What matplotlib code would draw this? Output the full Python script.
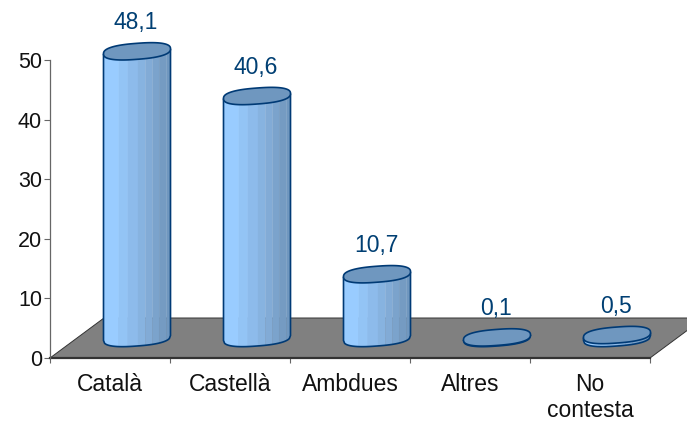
import matplotlib
matplotlib.use("Agg")
import matplotlib.pyplot as plt
import numpy as np
from matplotlib.patches import Polygon
from matplotlib.transforms import ScaledTranslation

plt.rcParams["font.family"] = ["Liberation Sans", "DejaVu Sans"]

categories = ["Català", "Castellà", "Ambdues", "Altres", "No\ncontesta"]
values = [48.1, 40.6, 10.7, 0.1, 0.5]
labels = ["48,1", "40,6", "10,7", "0,1", "0,5"]
y_ticks = [0, 10, 20, 30, 40, 50]

DPI = 100
W, H = 687, 422
LEFT, RIGHT, TOP, BOTTOM = 50, 650, 60, 358
DEPTH_X, DEPTH_Y = 54, 40  # floor depth in pixels

EDGE = "#003a75"
TOP_COLOR = "#6f97bf"
BAND_STOPS = [0, 0.23, 0.365, 0.515, 0.625, 0.73, 0.83, 0.94, 1]
BAND_COLORS = ["#99ccff", "#93c4f5", "#8dbbeb", "#87b3e0", "#82abd6", "#7ba3cc", "#759bc2", "#7097bf"]
RX, TILT, RY = 33.5, 2.5, 8.0  # cylinder ellipse in pixels
SQUARE = 0.8  # below 1 squares the ellipse off, the original caps are quite flat

fig = plt.figure(figsize=(W / DPI, H / DPI), dpi=DPI)
ax = fig.add_axes([LEFT / W, 1 - BOTTOM / H, (RIGHT - LEFT) / W, (BOTTOM - TOP) / H])
ax.patch.set_visible(False)
ax.set_xlim(0, len(categories))
ax.set_ylim(0, 50)


def px_trans(x, y):
    # shapes are given in pixels around a data anchor
    return fig.dpi_scale_trans + ScaledTranslation(x, y, ax.transData)


def px(points):
    return np.asarray(points, dtype=float) / DPI


# ----- Floor -----
width = RIGHT - LEFT
floor = Polygon(px([(0, 0), (width, 0), (width + DEPTH_X, DEPTH_Y), (DEPTH_X, DEPTH_Y)]),
                closed=True, transform=px_trans(0, 0), facecolor="#808080",
                edgecolor="#333333", linewidth=0.7, clip_on=False, zorder=1)
ax.add_patch(floor)
ax.plot([0, len(categories)], [0, 0], color="#333333", lw=1.6, clip_on=False, zorder=2)


# ----- Cylinders -----
def front_curve(fracs, cy):
    # lower half of the cap outline, fracs run 0..1 from left to right
    u = 2 * np.asarray(fracs) - 1
    c = np.abs(u) ** (1 / SQUARE)
    s = np.sqrt(np.clip(1 - c ** 2, 0, 1)) ** SQUARE
    return RX * u, cy + TILT * u - RY * s


def cap_outline(cy):
    t = np.linspace(0, 2 * np.pi, 160)
    u = np.sign(np.cos(t)) * np.abs(np.cos(t)) ** SQUARE
    w = np.sign(np.sin(t)) * np.abs(np.sin(t)) ** SQUARE
    return np.column_stack([RX * u, cy + TILT * u + RY * w])


scale = ax.transData.transform((0, 1))[1] - ax.transData.transform((0, 0))[1]

for i, (v, lab) in enumerate(zip(values, labels)):
    x = i + 0.5
    trans = px_trans(x, 0)
    cx, cy = DEPTH_X / 2, DEPTH_Y / 2
    top_y = cy + v * scale

    for j, color in enumerate(BAND_COLORS):
        f = np.linspace(BAND_STOPS[j], BAND_STOPS[j + 1], 12)
        bx, by = front_curve(f, cy)
        tx, ty = front_curve(f[::-1], top_y)
        pts = np.column_stack([np.r_[bx, tx] + cx, np.r_[by, ty]])
        ax.add_patch(Polygon(px(pts), closed=True, transform=trans, facecolor=color,
                             edgecolor=color, linewidth=0.2, clip_on=False, zorder=3))

    # outline of the side
    f = np.linspace(0, 1, 60)
    bx, by = front_curve(f, cy)
    outline = np.column_stack([np.r_[-RX, bx, RX] + cx, np.r_[top_y - TILT, by, top_y + TILT]])
    ax.add_patch(Polygon(px(outline), closed=False, transform=trans, facecolor="none",
                         edgecolor=EDGE, linewidth=1.2, clip_on=False, zorder=4))

    cap = cap_outline(top_y) + [cx, 0]
    ax.add_patch(Polygon(px(cap), closed=True, transform=trans, facecolor=TOP_COLOR,
                         edgecolor=EDGE, linewidth=1.2, clip_on=False, zorder=5))

    ax.annotate(lab, xy=(x, v), xytext=(cx - 1, cy + 29), textcoords="offset pixels",
                ha="center", va="center", fontsize=16.5, color="#003f73", annotation_clip=False, zorder=6)

# ----- Axes -----
for side in ["top", "right"]:
    ax.spines[side].set_visible(False)
ax.spines["bottom"].set_visible(False)
ax.spines["left"].set_color("#666666")
ax.spines["left"].set_linewidth(0.9)

ax.set_yticks(y_ticks)
ax.tick_params(axis="y", length=4.3, width=0.8, color="#666666", labelsize=15.5, pad=1.5, labelcolor="#111111")
ax.set_xticks(range(len(categories) + 1))
ax.tick_params(axis="x", length=3.6, width=0.8, color="#666666", labelbottom=False)

for i, cat in enumerate(categories):
    ax.annotate(cat, xy=(i + 0.5, 0), xytext=(0, -15), textcoords="offset pixels",
                ha="center", va="top", fontsize=16.5, color="#111111", linespacing=1.15,
                annotation_clip=False)

fig.savefig("out.png", dpi=DPI)
